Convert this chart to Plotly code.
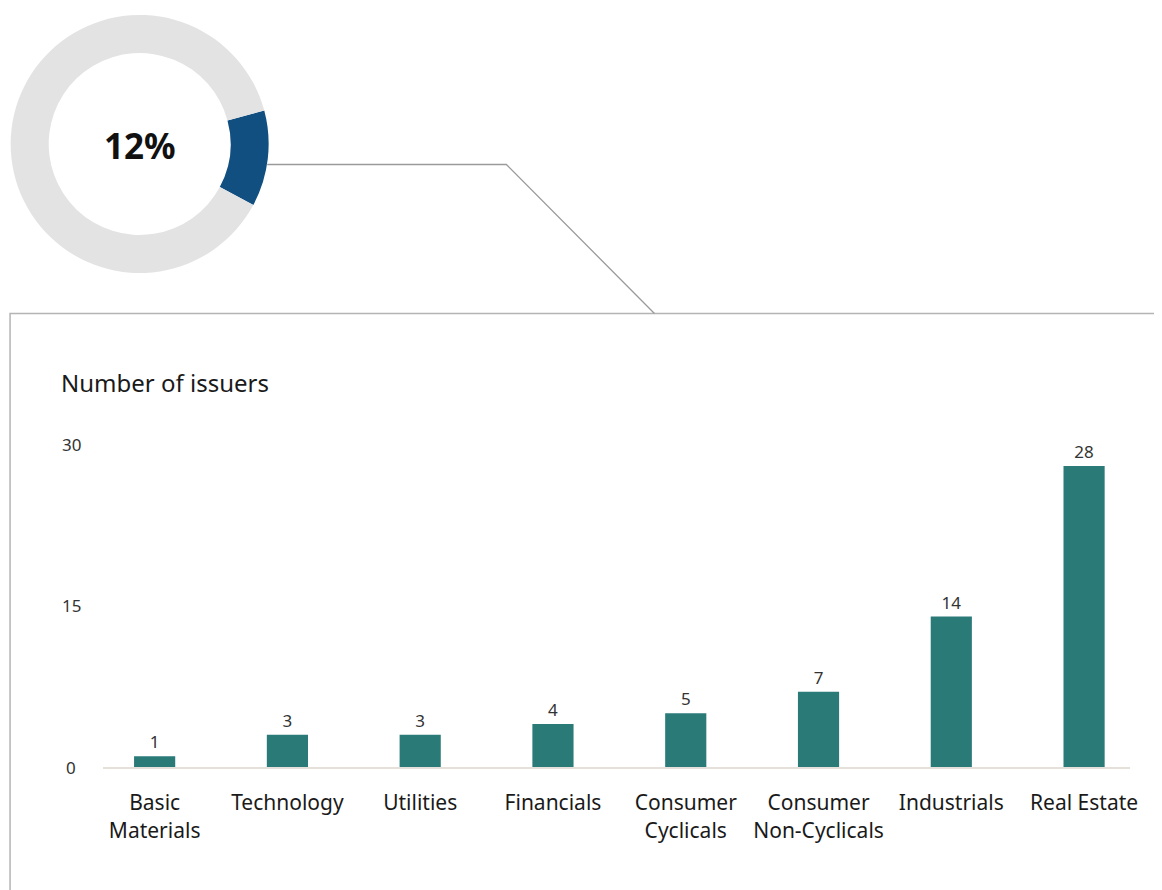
import plotly.graph_objects as go

# data
categories = ["Basic<br>Materials", "Technology", "Utilities", "Financials",
              "Consumer<br>Cyclicals", "Consumer<br>Non-Cyclicals", "Industrials", "Real Estate"]
issuers = [1, 3, 3, 4, 5, 7, 14, 28]
y_ticks = [0, 15, 30]
share_labels = ["Selected", "Other"]
share_values = [12, 88]

W, H = 1162, 882
OFF = 8        # page body margin
SX = 0.9925    # horizontal squeeze seen in the rendered page
FONT = "Noto Sans"
TEAL = "#2a7a78"


def px(x):
    return (x / SX - OFF) / W


def py(y):
    return 1 - (y - OFF) / H


fig = go.Figure()

# donut
fig.add_trace(go.Pie(
    labels=share_labels, values=share_values,
    hole=0.705, sort=False, direction="clockwise", rotation=75,
    marker=dict(colors=["#114f80", "#e3e3e3"], line=dict(width=0)),
    textinfo="none", hoverinfo="label+value", showlegend=False,
    domain=dict(x=[px(10.5), px(268.5)], y=[py(273), py(15)]),
))

# bars
fig.add_trace(go.Bar(
    x=categories, y=issuers,
    width=0.31, marker_color=TEAL, marker_line_width=0,
    text=[str(v) for v in issuers], textposition="outside",
    textfont=dict(size=17, color="#333333", family=FONT),
    cliponaxis=False, showlegend=False,
))

annotations = [
    dict(text="<b>12%</b>", x=px(139.5), y=py(146), xref="paper", yref="paper",
         xanchor="center", yanchor="middle",
         showarrow=False, font=dict(size=35, color="#111111", family=FONT)),
    dict(text="Number of issuers", x=px(59), y=py(383), xref="paper", yref="paper",
         xanchor="left", yanchor="middle",
         showarrow=False, font=dict(size=24, color="#1a1a1a", family=FONT)),
]
for t in y_ticks:
    annotations.append(dict(text=str(t), x=px(71), y=t, xref="paper", yref="y",
                            xanchor="center", yanchor="middle",
                            showarrow=False, font=dict(size=17, color="#333333", family=FONT)))

shapes = [
    # panel box
    dict(type="rect", xref="paper", yref="paper",
         x0=px(10), x1=px(1200), y0=py(910), y1=py(313.5),
         line=dict(color="#b4b4b4", width=1.5), layer="below"),
    # connector from donut
    dict(type="path", xref="paper", yref="paper",
         path=f"M {px(267)} {py(164.5)} L {px(506)} {py(164.5)} L {px(654)} {py(313.5)}",
         line=dict(color="#9a9a9a", width=1.3)),
]

fig.update_layout(
    width=W, height=H,
    margin=dict(l=0, r=0, t=0, b=0),
    paper_bgcolor="white", plot_bgcolor="white",
    font=dict(family=FONT, color="#1a1a1a"),
    xaxis=dict(domain=[px(103), px(1129)], range=[-0.388, 7.344], type="category",
               showline=True, linecolor="#e5e1da", linewidth=2, ticks="",
               showgrid=False, tickfont=dict(size=21, color="#1a1a1a", family=FONT),
               ticklabelstandoff=16),
    yaxis=dict(domain=[py(767), py(444.5)], range=[0, 30], showticklabels=False,
               showgrid=False, zeroline=False),
    annotations=annotations,
    shapes=shapes,
)

fig.write_html("out.html")
